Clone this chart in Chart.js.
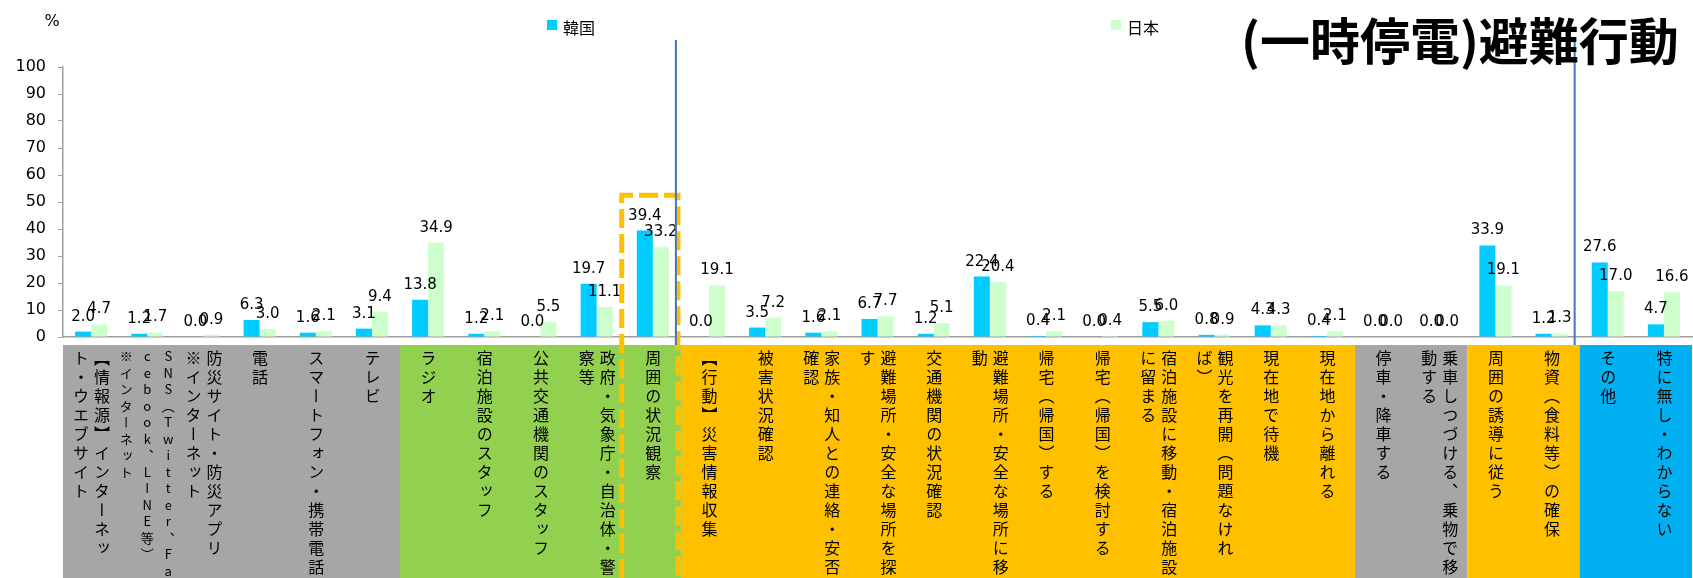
<!DOCTYPE html>
<html>
<head>
<meta charset="utf-8">
<script src="https://cdn.jsdelivr.net/npm/chart.js@4.4.1/dist/chart.umd.min.js"></script>
<style>
    html, body { margin: 0; padding: 0; background: #fff; }
    #wrap { position: relative; width: 1693px; height: 578px; overflow: hidden; }
    #chart { position: absolute; left: 0; top: 0; }
    #title { position: absolute; left: 1241px; top: 13px; font: bold 50px/1 "Noto Sans CJK JP", sans-serif; color: #000; white-space: nowrap; }
    .cat { position: absolute; top: 350px; writing-mode: vertical-rl; font-family: "Noto Sans CJK JP", sans-serif; font-size: 16px; letter-spacing: 3px; line-height: 21px; color: #000; white-space: nowrap; }
    .cat.small { font-size: 13px; letter-spacing: 3.5px; text-orientation: upright; }
</style>
</head>
<body>
<div id="wrap">
    <canvas id="chart" width="1693" height="578"></canvas>
    <div id="title">(一時停電)避難行動</div>
</div>
<script>
// category labels, one string per vertical column (right to left)
const categories = [
    ['【情報源】インターネッ', 'ト・ウエブサイト'],
    ['SNS（Twitter、Fa', 'cebook、LINE等）', '※インターネット'],
    ['防災サイト・防災アプリ', '※インターネット'],
    ['電話'],
    ['スマートフォン・携帯電話'],
    ['テレビ'],
    ['ラジオ'],
    ['宿泊施設のスタッフ'],
    ['公共交通機関のスタッフ'],
    ['政府・気象庁・自治体・警', '察等'],
    ['周囲の状況観察'],
    ['【行動】災害情報収集'],
    ['被害状況確認'],
    ['家族・知人との連絡・安否', '確認'],
    ['避難場所・安全な場所を探', 'す'],
    ['交通機関の状況確認'],
    ['避難場所・安全な場所に移', '動'],
    ['帰宅（帰国）する'],
    ['帰宅（帰国）を検討する'],
    ['宿泊施設に移動・宿泊施設', 'に留まる'],
    ['観光を再開（問題なけれ', 'ば）'],
    ['現在地で待機'],
    ['現在地から離れる'],
    ['停車・降車する'],
    ['乗車しつづける、乗物で移', '動する'],
    ['周囲の誘導に従う'],
    ['物資（食料等）の確保'],
    ['その他'],
    ['特に無し・わからない']
];

const seriesNames = ['韓国', '日本'];
const korea = [2.0, 1.2, 0.0, 6.3, 1.6, 3.1, 13.8, 1.2, 0.0, 19.7, 39.4, 0.0, 3.5, 1.6, 6.7, 1.2, 22.4, 0.4, 0.0, 5.5, 0.8, 4.3, 0.4, 0.0, 0.0, 33.9, 1.2, 27.6, 4.7];
const japan = [4.7, 1.7, 0.9, 3.0, 2.1, 9.4, 34.9, 2.1, 5.5, 11.1, 33.2, 19.1, 7.2, 2.1, 7.7, 5.1, 20.4, 2.1, 0.4, 6.0, 0.9, 4.3, 2.1, 0.0, 0.0, 19.1, 1.3, 17.0, 16.6];

const yMin = 0;
const yMax = 100;
const yStep = 10;

// coloured label bands: [first category, last category, colour]
const labelGroups = [
    [0, 5, '#A6A6A6'],
    [6, 10, '#92D050'],
    [11, 22, '#FFC000'],
    [23, 24, '#A6A6A6'],
    [25, 26, '#FFC000'],
    [27, 28, '#00B0F0']
];
const dividerAfter = [10, 26];   // blue lines after these categories
const highlightCat = 10;         // dashed box round 周囲の状況観察
const highlightTop = 52.5;

const labelTop = 345;

const decor = {
    id: 'decor',
    beforeDraw(chart) {
        const { ctx, scales: { x } } = chart;
        const half = x.width / categories.length / 2;
        ctx.save();
        labelGroups.forEach(([from, to, color]) => {
            const l = x.getPixelForValue(from) - half;
            const r = x.getPixelForValue(to) + half;
            ctx.fillStyle = color;
            ctx.fillRect(l, labelTop, r - l, chart.height - labelTop);
        });
        ctx.restore();
    },
    afterDatasetsDraw(chart) {
        const ctx = chart.ctx;
        ctx.save();
        ctx.font = '15px "DejaVu Sans"';
        ctx.fillStyle = '#000';
        ctx.textAlign = 'center';
        ctx.textBaseline = 'alphabetic';
        chart.data.datasets.forEach((ds, i) => {
            chart.getDatasetMeta(i).data.forEach((bar, j) => {
                ctx.fillText(ds.data[j].toFixed(1), bar.x, bar.y - 11);
            });
        });
        ctx.restore();
    },
    afterDraw(chart) {
        const { ctx, scales: { x, y } } = chart;
        const half = x.width / categories.length / 2;
        ctx.save();

        // dashed highlight box
        const hx = x.getPixelForValue(highlightCat);
        const left = hx - half - 3;
        const right = hx + half - 3;
        const top = y.getPixelForValue(highlightTop);
        ctx.strokeStyle = '#FFC000';
        ctx.lineWidth = 5;
        ctx.setLineDash([19, 6]);
        ctx.beginPath();
        ctx.moveTo(left, chart.height);
        ctx.lineTo(left, top);
        ctx.lineTo(right, top);
        ctx.lineTo(right, chart.height);
        ctx.stroke();
        ctx.setLineDash([]);

        // blue dividers
        ctx.strokeStyle = '#4472C4';
        ctx.lineWidth = 2;
        dividerAfter.forEach(i => {
            const dx = x.getPixelForValue(i) + half - 5;
            ctx.beginPath();
            ctx.moveTo(dx, 40);
            ctx.lineTo(dx, labelTop);
            ctx.stroke();
        });

        // legend
        const legendX = [547, 1111];
        ctx.font = '16px "Noto Sans CJK JP"';
        ctx.textBaseline = 'middle';
        ctx.textAlign = 'left';
        chart.data.datasets.forEach((ds, i) => {
            ctx.fillStyle = ds.backgroundColor;
            ctx.fillRect(legendX[i], 20, 10, 10);
            ctx.fillStyle = '#000';
            ctx.fillText(ds.label, legendX[i] + 16, 28);
        });

        // unit
        ctx.font = '16px "DejaVu Sans"';
        ctx.textAlign = 'center';
        ctx.fillText('%', 52, 22);
        ctx.restore();
    }
};

const chart = new Chart(document.getElementById('chart'), {
    type: 'bar',
    data: {
        labels: categories.map(c => c.join('')),
        datasets: [
            {
                label: seriesNames[0],
                data: korea,
                backgroundColor: '#00CCFF',
                borderWidth: 0,
                categoryPercentage: 0.57,
                barPercentage: 1.0
            },
            {
                label: seriesNames[1],
                data: japan,
                backgroundColor: '#CCFFCC',
                borderWidth: 0,
                categoryPercentage: 0.57,
                barPercentage: 1.0
            }
        ]
    },
    options: {
        responsive: false,
        animation: false,
        layout: { padding: { top: 67, right: 1, bottom: 241, left: 0 } },
        plugins: {
            legend: { display: false },
            tooltip: { enabled: false }
        },
        scales: {
            x: {
                grid: { display: false, drawTicks: false },
                ticks: { display: false, padding: 0 },
                border: { color: '#A0A0A0', width: 1.5 },
                afterFit(scale) { scale.height = 0; }
            },
            y: {
                min: yMin,
                max: yMax,
                ticks: {
                    stepSize: yStep,
                    padding: 12,
                    color: '#000',
                    font: { family: 'DejaVu Sans', size: 16 }
                },
                grid: { drawOnChartArea: false, drawTicks: true, tickLength: 5, color: '#A0A0A0' },
                border: { color: '#A0A0A0', width: 1.5 },
                afterFit(scale) { scale.width = 63; }
            }
        }
    },
    plugins: [decor]
});

// vertical category labels placed at the x scale's category centres
const wrap = document.getElementById('wrap');
const xs = chart.scales.x;
categories.forEach((cols, i) => {
    const d = document.createElement('div');
    d.className = 'cat' + (i === 1 ? ' small' : '');
    cols.forEach((col, k) => {
        if (k > 0) d.appendChild(document.createElement('br'));
        d.appendChild(document.createTextNode(col));
    });
    wrap.appendChild(d);
    d.style.left = (xs.getPixelForValue(i) - d.offsetWidth / 2) + 'px';
});
</script>
</body>
</html>
